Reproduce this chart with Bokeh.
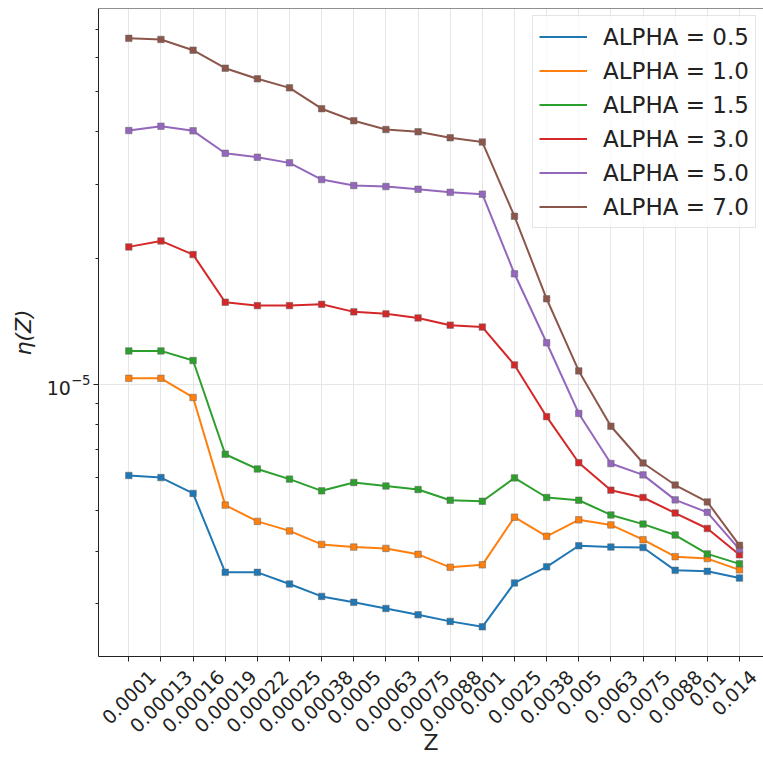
import math
from bokeh.plotting import figure
from bokeh.models import (Range1d, FixedTicker, Span, Legend, LegendItem,
                          ColumnDataSource, LinearAxis)
from bokeh.embed import file_html
from bokeh.resources import INLINE

# ---------------- data ----------------
Z_LABELS = ["0.0001", "0.00013", "0.00016", "0.00019", "0.00022", "0.00025",
            "0.00038", "0.0005", "0.00063", "0.00075", "0.00088", "0.001",
            "0.0025", "0.0038", "0.005", "0.0063", "0.0075", "0.0088",
            "0.01", "0.014"]

ALPHA_VALUES = ["0.5", "1.0", "1.5", "3.0", "5.0", "7.0"]

ETA_ALPHA_05 = [6.06e-6, 5.99e-6, 5.49e-6, 3.56e-6, 3.56e-6, 3.34e-6, 3.12e-6,
                3.02e-6, 2.92e-6, 2.82e-6, 2.72e-6, 2.64e-6, 3.36e-6, 3.67e-6,
                4.12e-6, 4.09e-6, 4.08e-6, 3.60e-6, 3.58e-6, 3.45e-6]
ETA_ALPHA_10 = [1.033e-5, 1.033e-5, 9.30e-6, 5.15e-6, 4.71e-6, 4.47e-6, 4.15e-6,
                4.09e-6, 4.06e-6, 3.93e-6, 3.66e-6, 3.71e-6, 4.82e-6, 4.34e-6,
                4.75e-6, 4.62e-6, 4.26e-6, 3.88e-6, 3.84e-6, 3.61e-6]
ETA_ALPHA_15 = [1.201e-5, 1.201e-5, 1.139e-5, 6.81e-6, 6.28e-6, 5.94e-6, 5.57e-6,
                5.83e-6, 5.72e-6, 5.61e-6, 5.29e-6, 5.26e-6, 5.98e-6, 5.37e-6,
                5.29e-6, 4.88e-6, 4.64e-6, 4.37e-6, 3.94e-6, 3.73e-6]
ETA_ALPHA_30 = [2.126e-5, 2.197e-5, 2.038e-5, 1.569e-5, 1.540e-5, 1.540e-5, 1.551e-5,
                1.488e-5, 1.472e-5, 1.439e-5, 1.383e-5, 1.369e-5, 1.112e-5, 8.37e-6,
                6.50e-6, 5.59e-6, 5.37e-6, 4.93e-6, 4.53e-6, 3.92e-6]
ETA_ALPHA_50 = [4.027e-5, 4.123e-5, 4.020e-5, 3.554e-5, 3.477e-5, 3.372e-5, 3.077e-5,
                2.977e-5, 2.961e-5, 2.917e-5, 2.868e-5, 2.840e-5, 1.834e-5, 1.256e-5,
                8.52e-6, 6.47e-6, 6.08e-6, 5.30e-6, 4.95e-6, 4.04e-6]
ETA_ALPHA_70 = [6.68e-5, 6.64e-5, 6.26e-5, 5.67e-5, 5.35e-5, 5.09e-5, 4.54e-5,
                4.25e-5, 4.05e-5, 4.00e-5, 3.87e-5, 3.78e-5, 2.515e-5, 1.599e-5,
                1.076e-5, 7.94e-6, 6.49e-6, 5.75e-6, 5.24e-6, 4.13e-6]

SERIES = [ETA_ALPHA_05, ETA_ALPHA_10, ETA_ALPHA_15, ETA_ALPHA_30, ETA_ALPHA_50, ETA_ALPHA_70]
COLORS = ["#1f77b4", "#ff7f0e", "#2ca02c", "#d62728", "#9467bd", "#8c564b"]

Y_MAJOR_TICKS = [1e-5]
Y_RANGE = (2.243e-6, 7.87e-5)

# ---------------- figure ----------------
FONT = "DejaVu Sans"
TICK_PX = 19
INK = "#222222"
WIDTH, HEIGHT = 763, 758
BORDER_L, BORDER_R, BORDER_T, BORDER_B = 98, 0, 8, 102

n = len(Z_LABELS)
xs = list(range(n))
X_START, X_END = -0.943, n - 1 + 0.748

p = figure(width=WIDTH, height=HEIGHT,
           x_range=Range1d(X_START, X_END),
           y_range=Range1d(*Y_RANGE),
           y_axis_type="log",
           output_backend="svg", toolbar_location=None,
           min_border_left=BORDER_L, min_border_right=BORDER_R,
           min_border_top=BORDER_T, min_border_bottom=BORDER_B)
p.outline_line_color = None
p.background_fill_color = "white"
p.border_fill_color = "white"

xticker = FixedTicker(ticks=xs)
minor = [k * 10.0 ** e for e in (-6, -5) for k in range(2, 10)]
minor = [m for m in minor if Y_RANGE[0] <= m <= Y_RANGE[1]]
yticker = FixedTicker(ticks=Y_MAJOR_TICKS, minor_ticks=minor)

p.xaxis.ticker = xticker
p.xgrid.ticker = xticker
p.yaxis.ticker = yticker
p.ygrid.ticker = yticker


def style_axis(ax):
    ax.axis_line_color = INK
    ax.axis_line_width = 1
    ax.major_tick_line_color = INK
    ax.minor_tick_line_color = INK
    ax.major_tick_in = 0
    ax.major_tick_out = 5
    ax.minor_tick_in = 0
    ax.minor_tick_out = 3
    ax.major_label_text_font = FONT
    ax.major_label_text_font_size = f"{TICK_PX}px"
    ax.major_label_text_color = INK
    ax.axis_label_text_font = FONT
    ax.axis_label_text_font_size = "22px"
    ax.axis_label_text_color = INK


xa = p.xaxis[0]
ya = p.yaxis[0]
style_axis(xa)
style_axis(ya)

# primary x axis: only the tick marks at each category
xa.major_label_overrides = {i: "" for i in xs}
xa.major_label_text_font_size = "0px"
xa.major_label_standoff = 0

# second x axis: the rotated category labels, centred under their ticks
frame_w = WIDTH - BORDER_L - BORDER_R
px_per_unit = frame_w / (X_END - X_START)


def text_width(s):
    return TICK_PX * sum(0.318 if c == "." else 0.636 for c in s)


label_pos = []
for i, s in zip(xs, Z_LABELS):
    w = text_width(s)
    h = 1.2 * TICK_PX
    centre_px = (i - X_START) * px_per_unit          # centre of the rotated label
    right_px = centre_px + (w + h) / (2 * math.sqrt(2))
    centre_px += min(0.0, (frame_w - 2) - right_px)  # keep the last label inside the page
    anchor_px = centre_px + w / (2 * math.sqrt(2))   # bokeh anchors the label's end
    label_pos.append(X_START + anchor_px / px_per_unit)

xlab = LinearAxis(ticker=FixedTicker(ticks=label_pos),
                  major_label_overrides={pos: s for pos, s in zip(label_pos, Z_LABELS)})
style_axis(xlab)
xlab.axis_line_color = None
xlab.major_tick_line_color = None
xlab.minor_tick_line_color = None
xlab.major_tick_out = 0
xlab.minor_tick_out = 0
xlab.major_label_orientation = math.pi / 4
xlab.major_label_standoff = 12
xlab.axis_label = "Z"
xlab.axis_label_text_font_style = "normal"
xlab.axis_label_standoff = -12
p.add_layout(xlab, "below")

ya.major_label_standoff = 3
ya.axis_label = "η(Z)"
ya.axis_label_text_font_style = "italic"
ya.axis_label_standoff = 8

p.xgrid.grid_line_color = "#e6e6e6"
p.ygrid.grid_line_color = "#e6e6e6"

# top border of the frame (right border falls outside the picture)
p.add_layout(Span(location=Y_RANGE[1], dimension="width", line_color=INK, line_width=1))

# ---------------- series ----------------
items = []
for alpha_v, vals, color in zip(ALPHA_VALUES, SERIES, COLORS):
    src = ColumnDataSource(dict(x=xs, y=vals))
    r = p.line("x", "y", source=src, line_color=color, line_width=2)
    p.scatter("x", "y", source=src, marker="square", size=6.5,
              fill_color=color, line_color="#666666", line_alpha=0.5, line_width=1)
    items.append(LegendItem(label=f"ALPHA = {alpha_v}", renderers=[r]))

legend = Legend(items=items, location=(434, 428),
                label_text_font=FONT, label_text_font_size="23px",
                label_text_color=INK,
                glyph_width=48, glyph_height=29, label_height=29,
                label_standoff=16, spacing=5, padding=6, margin=0,
                border_line_color="#cccccc", border_line_width=1,
                background_fill_color="white", background_fill_alpha=0.8)
p.add_layout(legend)

open("out.html", "w").write(file_html(p, INLINE))
